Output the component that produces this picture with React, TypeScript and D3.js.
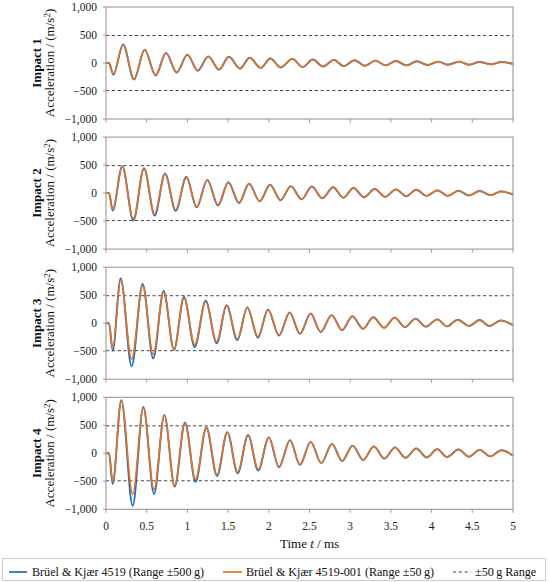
import React from "react";
import * as d3 from "d3";

const xTicks = [0, 0.5, 1, 1.5, 2, 2.5, 3, 3.5, 4, 4.5, 5];
const yTicks = [1000, 500, 0, -500, -1000];
const rangeLimit = 490.5; // ±50 g in m/s²

const impactLabels = ["Impact 1", "Impact 2", "Impact 3", "Impact 4"];

const impact1Time = [0, 0.037, 0.09, 0.21, 0.344, 0.475, 0.61, 0.737, 0.868, 1.0, 1.126, 1.257, 1.388, 1.51, 1.646, 1.765, 1.9, 2.02, 2.146, 2.29, 2.416, 2.54, 2.666, 2.8, 2.92, 3.055, 3.18, 3.31, 3.436, 3.56, 3.69, 3.82, 3.95, 4.08, 4.2, 4.34, 4.46, 4.59, 4.73, 4.86, 5.0];
const impact1Orange = [0, 0, -197, 326, -283, 234, -215, 178, -166, 148, -135, 117, -117, 111, -98, 92, -86, 80, -80, 74, -74, 62, -62, 55, -55, 49, -49, 43, -43, 37, -43, 31, -37, 25, -31, 25, -31, 18, -25, 18, -18];
const impact1Blue = [0, 0, -210, 330, -296, 238, -222, 181, -170, 150, -138, 119, -119, 112, -99, 93, -87, 80, -80, 74, -74, 62, -62, 55, -55, 49, -49, 43, -43, 37, -43, 31, -37, 25, -31, 25, -31, 18, -25, 18, -18];

const impact2Time = [0, 0.037, 0.082, 0.2, 0.336, 0.467, 0.598, 0.725, 0.856, 0.987, 1.114, 1.245, 1.376, 1.503, 1.634, 1.757, 1.888, 2.015, 2.146, 2.27, 2.404, 2.527, 2.658, 2.79, 2.916, 3.04, 3.17, 3.3, 3.43, 3.56, 3.69, 3.81, 3.94, 4.07, 4.2, 4.33, 4.46, 4.59, 4.73, 4.85, 5.0];
const impact2Orange = [0, 0, -294, 472, -460, 435, -374, 343, -300, 282, -245, 233, -208, 190, -172, 166, -141, 147, -123, 123, -110, 117, -92, 104, -80, 92, -74, 74, -67, 67, -55, 61, -49, 49, -49, 43, -43, 37, -37, 31, -25];
const impact2Blue = [0, 0, -310, 482, -490, 445, -400, 350, -315, 287, -255, 237, -220, 193, -178, 168, -146, 149, -127, 125, -110, 117, -92, 104, -80, 92, -74, 74, -67, 67, -55, 61, -49, 49, -49, 43, -43, 37, -37, 31, -25];

const impact3Time = [0, 0.037, 0.082, 0.18, 0.315, 0.45, 0.58, 0.708, 0.835, 0.958, 1.09, 1.224, 1.36, 1.482, 1.613, 1.736, 1.867, 1.99, 2.125, 2.256, 2.383, 2.514, 2.637, 2.772, 2.9, 3.026, 3.157, 3.284, 3.415, 3.546, 3.673, 3.804, 3.927, 4.07, 4.19, 4.32, 4.46, 4.59, 4.71, 4.85, 5.0];
const impact3Orange = [0, 0, -456, 777, -642, 666, -555, 555, -469, 450, -383, 383, -333, 315, -284, 278, -240, 241, -210, 191, -185, 173, -154, 142, -123, 123, -99, 105, -80, 99, -68, 80, -62, 68, -56, 62, -49, 56, -49, 49, -37];
const impact3Blue = [0, 0, -494, 802, -771, 703, -629, 574, -475, 469, -426, 401, -358, 320, -302, 282, -259, 245, -222, 194, -190, 175, -158, 144, -126, 124, -101, 106, -82, 100, -70, 81, -62, 68, -56, 62, -49, 56, -49, 49, -37];

const impact4Time = [0, 0.037, 0.082, 0.188, 0.328, 0.459, 0.59, 0.717, 0.844, 0.97, 1.1, 1.233, 1.364, 1.49, 1.618, 1.745, 1.87, 2.0, 2.125, 2.26, 2.383, 2.514, 2.645, 2.776, 2.9, 3.03, 3.16, 3.29, 3.42, 3.55, 3.68, 3.81, 3.94, 4.07, 4.19, 4.33, 4.46, 4.59, 4.72, 4.86, 5.0];
const impact4Orange = [0, 0, -509, 932, -729, 809, -650, 674, -576, 533, -466, 454, -386, 374, -337, 325, -288, 282, -239, 233, -202, 202, -172, 166, -135, 135, -116, 123, -92, 104, -80, 86, -74, 74, -67, 67, -61, 61, -55, 55, -43];
const impact4Blue = [0, 0, -546, 950, -938, 828, -729, 687, -595, 552, -509, 460, -405, 378, -356, 328, -307, 285, -251, 236, -206, 204, -176, 168, -138, 137, -119, 124, -94, 105, -82, 87, -74, 74, -67, 67, -61, 61, -55, 55, -43];

const panels = [
  { time: impact1Time, blue: impact1Blue, orange: impact1Orange },
  { time: impact2Time, blue: impact2Blue, orange: impact2Orange },
  { time: impact3Time, blue: impact3Blue, orange: impact3Orange },
  { time: impact4Time, blue: impact4Blue, orange: impact4Orange },
];

const W = 550;
const H = 582;
const left = 106;
const right = 513;
const panelTop0 = 7;
const panelStep = 130.1;
const panelH = 112;

const BLUE = "#1a6fc4";
const ORANGE = "#e8711f";
const FRAME = "#9a9a9a";
const FONT = "'Liberation Serif', 'Times New Roman', serif";

const fmtY = (v: number) => {
  const s = d3.format(",")(Math.abs(v));
  return v < 0 ? "\u2212" + s : s;
};

export default function App() {
  const x = d3.scaleLinear().domain([0, 5]).range([left, right]);

  return (
    <div style={{ position: "absolute", left: 0, top: 0 }}>
      <svg width={W} height={H} style={{ display: "block", background: "#fff" }} fontFamily={FONT}>
        {panels.map((p, i) => {
          const top = panelTop0 + i * panelStep;
          const y = d3.scaleLinear().domain([-1000, 1000]).range([top + panelH, top]);
          const line = d3
            .line<number>()
            .x((_, k) => x(p.time[k]))
            .y((v) => y(v))
            .curve(d3.curveMonotoneX);
          const cy = top + panelH / 2;
          return (
            <g key={i}>
              {[rangeLimit, -rangeLimit].map((v) => (
                <line
                  key={v}
                  x1={left}
                  x2={right}
                  y1={y(v)}
                  y2={y(v)}
                  stroke="#444"
                  strokeWidth={1}
                  strokeDasharray="3.2,2.6"
                />
              ))}
              <path d={line(p.blue) || ""} fill="none" stroke={BLUE} strokeWidth={1.9} />
              <path d={line(p.orange) || ""} fill="none" stroke={ORANGE} strokeWidth={1.6} />
              <rect x={left} y={top} width={right - left} height={panelH} fill="none" stroke={FRAME} strokeWidth={1.1} />
              {yTicks.map((t) => (
                <g key={t}>
                  <line x1={left - 3} x2={left} y1={y(t)} y2={y(t)} stroke={FRAME} strokeWidth={1} />
                  <text x={97} y={y(t)} dy="0.35em" textAnchor="end" fontSize={11.5} fill="#222">
                    {fmtY(t)}
                  </text>
                </g>
              ))}
              {xTicks.map((t) => (
                <line key={t} x1={x(t)} x2={x(t)} y1={top + panelH} y2={top + panelH + 3.5} stroke={FRAME} strokeWidth={1} />
              ))}
              <text transform={`translate(41,${cy}) rotate(-90)`} textAnchor="middle" fontSize={13} fontWeight="bold" fill="#111">
                {impactLabels[i]}
              </text>
              <text transform={`translate(54,${cy}) rotate(-90)`} textAnchor="middle" fontSize={13} fill="#111">
                Acceleration / (m/s
                <tspan dy={-4.5} fontSize={9}>2</tspan>
                <tspan dy={4.5}>)</tspan>
              </text>
            </g>
          );
        })}
        {xTicks.map((t) => (
          <text key={t} x={x(t)} y={530} textAnchor="middle" fontSize={11.5} fill="#222">
            {String(t)}
          </text>
        ))}
        <text x={(left + right) / 2} y={548} textAnchor="middle" fontSize={13} fill="#111">
          Time <tspan fontStyle="italic">t</tspan> / ms
        </text>
        <rect x={2.5} y={558.5} width={543} height={22} fill="#fff" stroke="#cfcfcf" strokeWidth={1} />
        <line x1={9} x2={27} y1={572} y2={572} stroke={BLUE} strokeWidth={1.7} />
        <text x={32} y={576} fontSize={12.1} fill="#111">
          Brüel &amp; Kjær 4519 (Range ±500{"\u2009"}g)
        </text>
        <line x1={223} x2={242} y1={572} y2={572} stroke={ORANGE} strokeWidth={1.7} />
        <text x={246} y={576} fontSize={12.1} fill="#111">
          Brüel &amp; Kjær 4519-001 (Range ±50{"\u2009"}g)
        </text>
        <line x1={453} x2={471} y1={572} y2={572} stroke="#444" strokeWidth={1} strokeDasharray="3.2,2.6" />
        <text x={475} y={576} fontSize={12.1} fill="#111">
          ±50{"\u2009"}g Range
        </text>
      </svg>
    </div>
  );
}
